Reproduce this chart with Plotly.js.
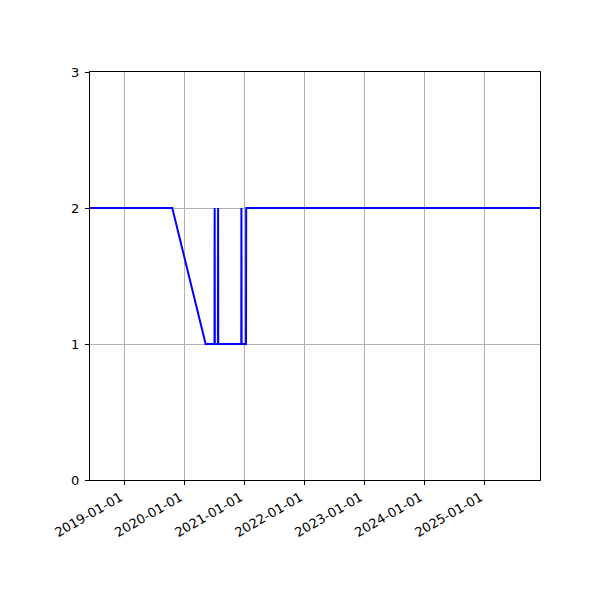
<!DOCTYPE html>
<html>
<head>
<meta charset="utf-8">
<script src="https://cdn.plot.ly/plotly-3.0.1.min.js"></script>
<style>
  body { margin: 0; }
  #chart { width: 600px; height: 600px; }
</style>
</head>
<body>
<div id="chart"></div>
<script>
// Dates and values
var dates = ["2018-06-06", "2019-10-20", "2020-05-10",
             "2020-07-03", "2020-07-04", "2020-07-05",
             "2020-07-24", "2020-07-25", "2020-07-26",
             "2020-12-13", "2020-12-14", "2020-12-15",
             "2021-01-11", "2021-01-12", "2025-12-06"];
var values = [2, 2, 1,
              1, 2, 1,
              1, 2, 1,
              1, 2, 1,
              1, 2, 2];

var tickDates = ["2019-01-01", "2020-01-01", "2021-01-01", "2022-01-01",
                 "2023-01-01", "2024-01-01", "2025-01-01"];
var yTicks = [0, 1, 2, 3];

var trace = {
  x: dates,
  y: values,
  mode: 'lines',
  type: 'scatter',
  line: {color: '#0000ff', width: 2},
  hoverinfo: 'skip'
};

var layout = {
  width: 600,
  height: 600,
  margin: {l: 90, r: 60, t: 72, b: 120},
  showlegend: false,
  paper_bgcolor: 'white',
  plot_bgcolor: 'white',
  font: {family: 'DejaVu Sans', size: 13, color: 'black'},
  xaxis: {
    type: 'date',
    range: [dates[0], dates[dates.length - 1]],
    tickvals: tickDates,
    ticktext: tickDates,
    tickangle: -30,
    ticklabelshift: -4,
    ticks: 'outside',
    ticklen: 4,
    tickcolor: 'black',
    showgrid: true,
    gridcolor: '#b0b0b0',
    gridwidth: 1,
    showline: true,
    linecolor: 'black',
    linewidth: 1,
    mirror: true,
    zeroline: false
  },
  yaxis: {
    range: [0, 3],
    tickvals: yTicks,
    ticks: 'outside',
    ticklen: 4,
    tickcolor: 'black',
    ticklabelstandoff: 3,
    showgrid: true,
    gridcolor: '#b0b0b0',
    gridwidth: 1,
    showline: true,
    linecolor: 'black',
    linewidth: 1,
    mirror: true,
    zeroline: false
  }
};

Plotly.newPlot('chart', [trace], layout, {staticPlot: true});
</script>
</body>
</html>
